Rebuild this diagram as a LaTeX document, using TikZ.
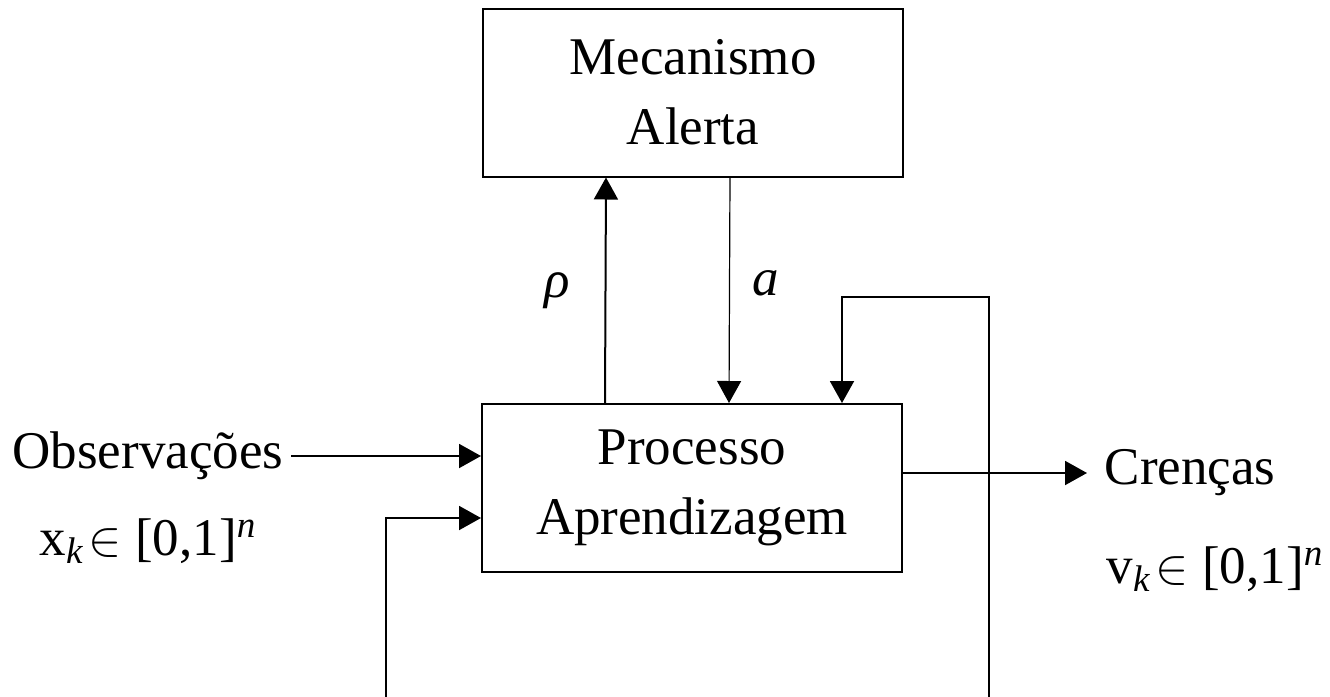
\documentclass[tikz,border=0pt]{standalone}
\usepackage{fontspec}
\setmainfont{Liberation Serif}
\usepackage{tikz}
\usetikzlibrary{arrows.meta,positioning}
\tikzstyle{block} = [rectangle,draw,line width=1pt,minimum width=210pt,minimum height=84pt,align=center]
\tikzstyle{lbl} = [font=\fontsize{26.5}{35}\selectfont]

\begin{document}
\begin{tikzpicture}[x=0.5pt,y=-0.5pt,>={Triangle[width=12pt,length=11pt]},line width=1pt,
                    every node/.style={font=\fontsize{26.5}{35}\selectfont}]
    \useasboundingbox (0,0) rectangle (1330,697);
    % the two blocks
    \node [block] (alerta) at (693,92.5) {Mecanismo\\Alerta};
    \node [block] (proc) at (692,488) {Processo\\Aprendizagem};

    % inputs and outputs
    \node [lbl] (obs) at (148,456) {Observações};
    \node [lbl] (xk) at (148,541) {x\textsubscript{\textit{k}}\hspace{2pt}$\in$\hspace{7pt}[0,1]\textsuperscript{\textit{n}}};
    \node [lbl, anchor=west] (cren) at (1097,473) {Crenças};
    \node [lbl] (vk) at (1215,569) {v\textsubscript{\textit{k}}\hspace{2pt}$\in$\hspace{7pt}[0,1]\textsuperscript{\textit{n}}};

    % free ends of the feedback lines
    \coordinate (lowL) at (386,697);
    \coordinate (lowR) at (989,697);
    \coordinate (fbtop) at (842,297);

    % connectors
    \draw [->] (obs.east) -- (obs.east -| proc.west);
    \draw [->] (lowL) |- ([yshift=-15pt]proc.west);
    \draw [->] (proc.east |- cren) -- ([xshift=-5pt]cren.west);
    \draw [->] (lowR) |- (fbtop) -- (fbtop |- proc.north);
    \draw [->] ([xshift=-43.5pt]proc.north) -- node[left=14pt, pos=0.5] {\textit{ρ}} ([xshift=-43.5pt]alerta.south);
    \draw [->, line width=0.6pt] ([xshift=18.5pt]alerta.south) -- node[right=8pt, pos=0.47] {\textit{a}} ([xshift=18.5pt]proc.north);

\end{tikzpicture}
\end{document}
